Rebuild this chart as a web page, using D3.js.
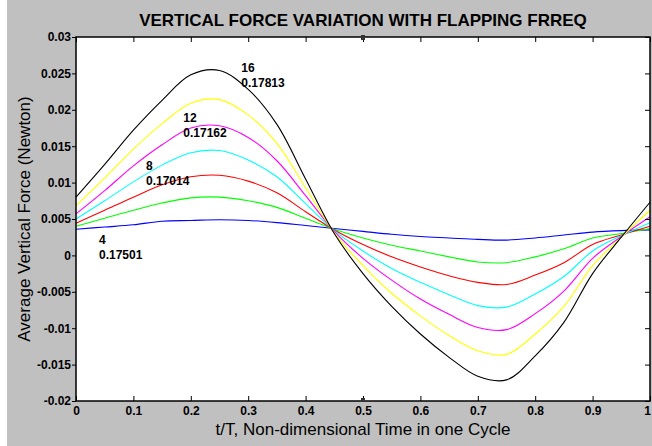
<!DOCTYPE html>
<html>
<head>
<meta charset="utf-8">
<script src="https://cdn.jsdelivr.net/npm/d3@7"></script>
<style>
  html, body { margin: 0; padding: 0; background: #fff; }
  svg { display: block; font-family: "Liberation Sans", Arial, sans-serif; }
</style>
</head>
<body>
<div class="chart"></div>
<script>
// time axis (t/T) and force values
const tValues = [0, 0.05, 0.1, 0.15, 0.2, 0.25, 0.3, 0.35, 0.4, 0.45, 0.5,
                 0.55, 0.6, 0.65, 0.7, 0.75, 0.8, 0.85, 0.9, 0.95, 1];

const freqs = [4, 6, 8, 10, 12, 14, 16];

const f4  = [0.0036, 0.0039, 0.0042, 0.0047, 0.0048, 0.0049, 0.0048, 0.0045, 0.0041, 0.0037, 0.0033,
             0.0029, 0.0026, 0.0024, 0.0022, 0.0021, 0.0024, 0.0028, 0.0032, 0.0034, 0.0035];
const f6  = [0.0040, 0.0051, 0.0062, 0.0072, 0.0079, 0.0080, 0.0075, 0.0066, 0.0051, 0.0036, 0.0024,
             0.0014, 0.0006, -0.0002, -0.0009, -0.0010, -0.0002, 0.0009, 0.0024, 0.0030, 0.0037];
const f8  = [0.0044, 0.0062, 0.0080, 0.0097, 0.0108, 0.0110, 0.0102, 0.0086, 0.0060, 0.0035, 0.0015,
             -0.0002, -0.0016, -0.0028, -0.0037, -0.0040, -0.0027, -0.0010, 0.0015, 0.0028, 0.0040];
const f10 = [0.0050, 0.0075, 0.0101, 0.0124, 0.0141, 0.0144, 0.0131, 0.0108, 0.0071, 0.0034, 0.0006,
             -0.0018, -0.0037, -0.0054, -0.0069, -0.0071, -0.0053, -0.0029, 0.0006, 0.0027, 0.0045];
const f12 = [0.0057, 0.0089, 0.0123, 0.0152, 0.0175, 0.0178, 0.0162, 0.0130, 0.0082, 0.0033, -0.0004,
             -0.0034, -0.0060, -0.0081, -0.0099, -0.0102, -0.0080, -0.0049, -0.0004, 0.0026, 0.0053];
const f14 = [0.0068, 0.0106, 0.0146, 0.0181, 0.0209, 0.0214, 0.0193, 0.0154, 0.0093, 0.0031, -0.0014,
             -0.0052, -0.0083, -0.0110, -0.0131, -0.0136, -0.0108, -0.0070, -0.0014, 0.0025, 0.0062];
const f16 = [0.0080, 0.0125, 0.0172, 0.0213, 0.0248, 0.0254, 0.0228, 0.0180, 0.0105, 0.0030, -0.0025,
             -0.0070, -0.0108, -0.0140, -0.0166, -0.0171, -0.0138, -0.0092, -0.0025, 0.0025, 0.0073];

const seriesValues = [f4, f6, f8, f10, f12, f14, f16];
const seriesColors = ["#0000ff", "#00ff00", "#ff0000", "#00ffff", "#ff00ff", "#ffff00", "#000000"];

const xTicks = [0, 0.1, 0.2, 0.3, 0.4, 0.5, 0.6, 0.7, 0.8, 0.9, 1];
const xTickLabels = ["0", "0.1", "0.2", "0.3", "0.4", "0.5", "0.6", "0.7", "0.8", "0.9", "1"];
const yTicks = [-0.02, -0.015, -0.01, -0.005, 0, 0.005, 0.01, 0.015, 0.02, 0.025, 0.03];
const yTickLabels = ["-0.02", "-0.015", "-0.01", "-0.005", "0", "0.005", "0.01", "0.015", "0.02", "0.025", "0.03"];

// annotations next to the curves (frequency + value), anchored in data units
const noteFreq = ["16", "12", "8", "4"];
const noteValue = ["0.17813", "0.17162", "0.17014", "0.17501"];
const noteT = [0.288, 0.187, 0.122, 0.040];
const noteV = [0.0252, 0.0183, 0.0117, 0.0016];

const W = 652, H = 446;
const plotLeft = 76, plotRight = 650, plotTop = 37, plotBottom = 401;

const svg = d3.select(".chart").append("svg")
    .attr("width", W)
    .attr("height", H);

// grey figure background with a thin white strip on the left
svg.append("rect").attr("width", W).attr("height", H).attr("fill", "#fff");
svg.append("rect").attr("x", 7).attr("width", W - 7).attr("height", H).attr("fill", "#c0c0c0");

const xScale = d3.scaleLinear().domain([0, 1]).range([plotLeft, plotRight]);
const yScale = d3.scaleLinear().domain([-0.02, 0.03]).range([plotBottom, plotTop]);

svg.append("rect")
    .attr("x", plotLeft).attr("y", plotTop)
    .attr("width", plotRight - plotLeft).attr("height", plotBottom - plotTop)
    .attr("fill", "#fff");

// curves
const line = d3.line()
    .x((d, i) => xScale(tValues[i]))
    .y(d => yScale(d))
    .curve(d3.curveCatmullRom.alpha(0.5));

svg.append("g").selectAll("path")
    .data(seriesValues)
    .enter()
    .append("path")
    .attr("d", d => line(d))
    .attr("fill", "none")
    .attr("stroke", (d, i) => seriesColors[i])
    .attr("stroke-width", 1.1);

// axes
const xAxis = d3.axisBottom(xScale)
    .tickValues(xTicks)
    .tickFormat((d, i) => xTickLabels[i])
    .tickSizeInner(-5).tickSizeOuter(0).tickPadding(5);

const yAxis = d3.axisLeft(yScale)
    .tickValues(yTicks)
    .tickFormat((d, i) => yTickLabels[i])
    .tickSizeInner(4).tickSizeOuter(0).tickPadding(1);

const gx = svg.append("g")
    .attr("transform", `translate(0, ${plotBottom})`)
    .call(xAxis);

const gy = svg.append("g")
    .attr("transform", `translate(${plotLeft}, 0)`)
    .call(yAxis);

svg.append("g")
    .attr("transform", `translate(0, ${plotTop})`)
    .call(d3.axisBottom(xScale).tickValues(xTicks).tickFormat("").tickSizeInner(5).tickSizeOuter(0));

svg.append("g")
    .attr("transform", `translate(${plotRight}, 0)`)
    .call(d3.axisLeft(yScale).tickValues(yTicks).tickFormat("").tickSizeInner(5).tickSizeOuter(0));

svg.selectAll(".domain").remove();
svg.selectAll(".tick line").attr("stroke", "#000");

[gx, gy].forEach(g => g.selectAll(".tick text")
    .attr("fill", "#000")
    .style("font-size", "12px")
    .style("font-weight", "bold"));

// last x label sits on the right edge; nudge it so it stays inside
gx.selectAll(".tick text").filter(d => d === 1).attr("x", -3);

// frame
svg.append("rect")
    .attr("x", plotLeft).attr("y", plotTop)
    .attr("width", plotRight - plotLeft).attr("height", plotBottom - plotTop)
    .attr("fill", "none")
    .attr("stroke", "#000")
    .attr("stroke-width", 1.5);

// small markers at the middle of the top / bottom edges
svg.append("rect").attr("x", xScale(0.5) - 2).attr("y", plotTop - 2).attr("width", 4).attr("height", 5).attr("fill", "#333");
svg.append("rect").attr("x", xScale(0.5) - 2).attr("y", plotBottom - 3).attr("width", 4).attr("height", 4).attr("fill", "#333");

// annotations
const notes = svg.append("g").selectAll("text")
    .data(noteFreq)
    .enter()
    .append("text")
    .attr("x", (d, i) => xScale(noteT[i]))
    .attr("y", (d, i) => yScale(noteV[i]))
    .style("font-size", "12px")
    .style("font-weight", "bold")
    .attr("fill", "#000");

notes.append("tspan").text(d => d);
notes.append("tspan")
    .attr("x", (d, i) => xScale(noteT[i]))
    .attr("dy", 15)
    .text((d, i) => noteValue[i]);

// title and axis labels
svg.append("text")
    .attr("x", xScale(0.5))
    .attr("y", 26)
    .attr("text-anchor", "middle")
    .style("font-size", "17px")
    .style("font-weight", "bold")
    .text("VERTICAL FORCE VARIATION WITH FLAPPING FRREQ");

svg.append("text")
    .attr("x", xScale(0.5))
    .attr("y", 435)
    .attr("text-anchor", "middle")
    .style("font-size", "17px")
    .text("t/T, Non-dimensional Time in one Cycle");

svg.append("text")
    .attr("transform", `translate(30, ${(plotTop + plotBottom) / 2}) rotate(-90)`)
    .attr("text-anchor", "middle")
    .style("font-size", "17px")
    .text("Average Vertical Force (Newton)");
</script>
</body>
</html>
